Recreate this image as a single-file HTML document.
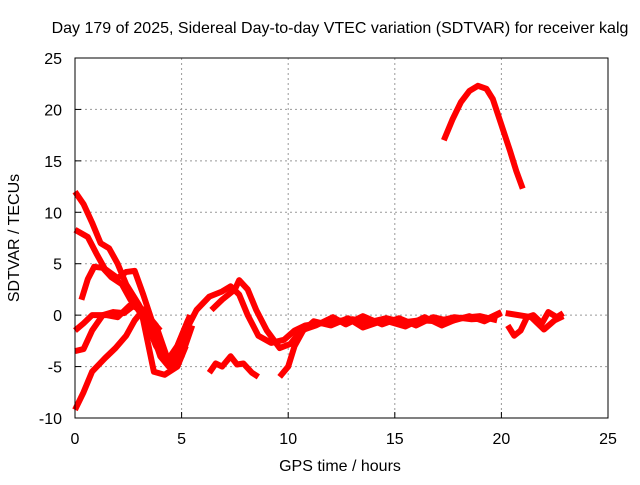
<!DOCTYPE html>
<html><head><meta charset="utf-8"><style>
body{margin:0;background:#fff;font-family:"Liberation Sans",sans-serif}
svg text{font-family:"Liberation Sans",sans-serif;font-size:16px;fill:#000}
</style></head><body>
<svg id="c" width="640" height="480">
<text x="340" y="33" text-anchor="middle">Day 179 of 2025, Sidereal Day-to-day VTEC variation (SDTVAR) for receiver kalg</text>
<text x="340" y="471" text-anchor="middle">GPS time / hours</text>
<text transform="translate(19,238) rotate(-90)" text-anchor="middle">SDTVAR / TECUs</text>
<g id="grid"></g><g id="series"></g>
<rect x="75" y="58" width="533" height="360" fill="none" stroke="#000"/>
</svg>
<script>
const xTicks=[0,5,10,15,20,25];
const yTicks=[-10,-5,0,5,10,15,20,25];
const trackA=[[0,12],[0.4,10.8],[0.8,9],[1.2,7],[1.6,6.5],[2,5],[2.4,3],[3,1],[3.5,-1],[4,-4],[4.4,-5],[5,-2],[5.4,0]];
const trackB=[[0,8.3],[0.6,7.6],[1,6],[1.4,4.5],[2,3.6],[2.4,4.2],[2.8,4.3],[3.2,2],[3.6,-0.5],[4,-2.5],[4.5,-5],[5,-4],[5.5,-1]];
const trackC=[[0.3,1.5],[0.6,3.5],[0.9,4.7],[1.3,4.6],[1.7,3.7],[2.2,3],[2.6,1.5],[3.2,0.5],[3.7,-0.8],[4,-1.5]];
const trackD=[[0,-1.5],[0.4,-0.8],[0.8,0],[1.5,0],[2,-0.2],[2.6,1],[3.1,0.5],[3.4,-2.5],[3.7,-5.5],[4.2,-5.8],[4.8,-5],[5.2,-3]];
const trackE=[[0,-3.5],[0.4,-3.3],[0.8,-1.5],[1.3,0],[1.8,0.3],[2.3,0.2],[2.8,1],[3.3,-0.5],[3.8,-3],[4.3,-4.5],[4.8,-3],[5.3,-0.5]];
const trackF=[[0,-9.2],[0.4,-7.5],[0.8,-5.5],[1.4,-4.2],[1.9,-3.2],[2.4,-2],[2.8,-0.5],[3.2,0.5],[3.8,-1],[4.3,-4],[4.7,-4.2],[5.2,-1.5],[5.7,0.5],[6.3,1.8],[6.9,2.3],[7.3,2.8],[7.7,2],[8.1,0],[8.6,-2],[9.2,-2.7],[9.8,-2.4],[10.3,-1.5],[10.8,-1],[11.5,-0.8],[12.2,-0.6],[13,-0.4],[13.8,-0.7],[14.6,-0.3],[15.4,-0.7],[16.2,-0.5],[17,-0.6],[17.8,-0.2],[18.6,-0.4],[19.4,-0.3],[20,0.3]];
const trackG=[[6.4,0.5],[6.9,1.5],[7.5,2.5],[7.7,3.4],[8.1,2.5],[8.5,0.5],[9,-1.5],[9.6,-3.2],[10.1,-2.8],[10.6,-1.5],[11.3,-1],[12.1,-0.2],[12.7,-0.9],[13.5,-0.1],[14.4,-0.9],[15.2,-0.3],[16,-1],[16.8,-0.2],[17.6,-0.6],[18.5,-0.1],[19.2,-0.6],[20,0.2]];
const trackH=[[6.3,-5.6],[6.6,-4.7],[6.9,-5],[7.3,-4],[7.6,-4.8],[7.9,-4.7],[8.3,-5.6],[8.6,-6]];
const trackI=[[9.6,-6],[10,-5],[10.3,-3],[10.7,-1.5],[11.2,-0.6],[12,-1],[12.8,-0.3],[13.5,-1.2],[14.5,-0.5],[15.5,-1.1],[16.4,-0.2],[17.2,-1],[18,-0.3],[19,-0.1],[19.8,-0.5]];
const trackJ=[[17.3,17],[17.7,19],[18.1,20.7],[18.5,21.8],[18.9,22.3],[19.3,22],[19.6,21],[20,18.5],[20.4,16],[20.7,14],[21,12.3]];
const trackK=[[20.3,-1],[20.6,-2],[20.9,-1.5],[21.2,-0.2],[21.5,0],[21.9,-0.8],[22.2,0.3],[22.6,-0.2],[22.9,0.2]];
const trackL=[[20.2,0.2],[20.8,0],[21.4,-0.2],[22,-1.4],[22.5,-0.5],[22.9,-0.1]];
const tracks=[trackA,trackB,trackC,trackD,trackE,trackF,trackG,trackH,trackI,trackJ,trackK,trackL];
const X=v=>75+v*533/25, Y=v=>418-(v+10)*360/35;
const ns="http://www.w3.org/2000/svg", svg=document.getElementById('c');
const grid=document.getElementById('grid'), ser=document.getElementById('series');
xTicks.forEach(t=>{
 if(t>0&&t<25){const l=document.createElementNS(ns,'line');l.setAttribute('x1',X(t));l.setAttribute('x2',X(t));l.setAttribute('y1',58);l.setAttribute('y2',418);l.setAttribute('stroke','#999');l.setAttribute('stroke-dasharray','2,3');
 
 grid.appendChild(l);}
 const k=document.createElementNS(ns,'line');k.setAttribute('x1',X(t));k.setAttribute('x2',X(t));k.setAttribute('y1',418);k.setAttribute('y2',412);k.setAttribute('stroke','#000');grid.appendChild(k);
 const tx=document.createElementNS(ns,'text');tx.setAttribute('x',X(t));tx.setAttribute('y',444);tx.setAttribute('text-anchor','middle');tx.textContent=t;
 
 svg.appendChild(tx);
});
yTicks.forEach(t=>{
 if(t>-10&&t<25){const l=document.createElementNS(ns,'line');l.setAttribute('x1',75);l.setAttribute('x2',608);l.setAttribute('y1',Y(t));l.setAttribute('y2',Y(t));l.setAttribute('stroke','#999');l.setAttribute('stroke-dasharray','2,3');
 
 grid.appendChild(l);}
 const k=document.createElementNS(ns,'line');k.setAttribute('x1',75);k.setAttribute('x2',81);k.setAttribute('y1',Y(t));k.setAttribute('y2',Y(t));k.setAttribute('stroke','#000');grid.appendChild(k);
 const tx=document.createElementNS(ns,'text');tx.setAttribute('x',62);tx.setAttribute('y',Y(t)+6);tx.setAttribute('text-anchor','end');tx.textContent=t;
 
 svg.appendChild(tx);
});
tracks.forEach(tr=>{
 const p=document.createElementNS(ns,'polyline');
 p.setAttribute('points',tr.map(d=>X(d[0])+','+Y(d[1])).join(' '));
 p.setAttribute('fill','none');p.setAttribute('stroke','#f00');p.setAttribute('stroke-width','6');p.setAttribute('stroke-linejoin','round');
 
 
 ser.appendChild(p);
});
</script>
</body></html>
